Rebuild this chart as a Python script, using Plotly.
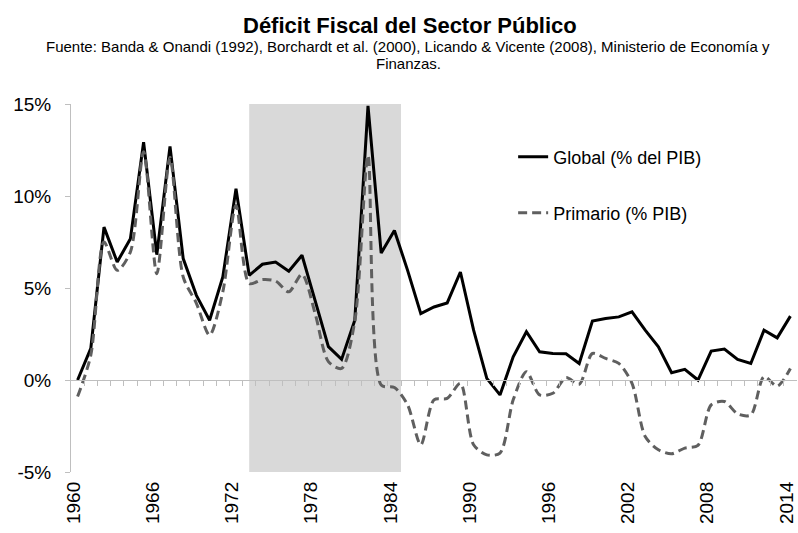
import plotly.graph_objects as go

years = list(range(1960, 2015))
global_pib = [0.0, 1.72, 8.31, 6.41, 7.68, 12.92, 6.81, 12.70, 6.60, 4.6,
              3.25, 5.6, 10.39, 5.69, 6.29, 6.41, 5.91, 6.78, 4.3, 1.81,
              1.12, 3.25, 14.9, 6.9, 8.13, 5.96, 3.61, 3.97, 4.19, 5.87,
              2.71, 0.09, -0.81, 1.26, 2.62, 1.53, 1.44, 1.43, 0.9, 3.2,
              3.34, 3.43, 3.70, 2.71, 1.81, 0.4, 0.58, 0.0, 1.57, 1.68,
              1.12, 0.9, 2.71, 2.29, 3.47]
primario_pib = [-0.9, 1.35, 7.5, 5.96, 6.96, 12.4, 5.78, 12.1, 5.6, 4.17,
                2.44, 4.79, 9.49, 5.24, 5.46, 5.38, 4.79, 5.75, 3.6, 1.0,
                0.63, 3.2, 12.2, -0.27, -0.41, -1.35, -3.52, -1.08, -1.0, -0.18,
                -3.52, -4.07, -3.97, -1.08, 0.45, -0.81, -0.72, 0.13, -0.23, 1.44,
                1.17, 0.9, -0.18, -3.07, -3.79, -4.01, -3.7, -3.55, -1.35, -1.17,
                -1.84, -1.9, 0.18, -0.33, 0.63]
label_years = [1960, 1966, 1972, 1978, 1984, 1990, 1996, 2002, 2008, 2014]
y_ticks = [-5, 0, 5, 10, 15]
shade_period = (1973, 1984.5)

title_text = "Déficit Fiscal del Sector Público"
subtitle_1 = ("Fuente: Banda & Onandi (1992), Borchardt et al. (2000), "
              "Licando & Vicente (2008), Ministerio de Economía y")
subtitle_2 = "Finanzas."

FONT = "Liberation Sans, Arial, sans-serif"
AXIS_GRAY = "#bfbfbf"
x_range = [years[0] - 0.5, years[-1] + 0.5]

# plot area: top 104 px, bottom 472 px
def paper_y(px):
    return (472 - px) / 368.0

fig = go.Figure()
fig.add_vrect(x0=shade_period[0], x1=shade_period[1], fillcolor="#d9d9d9",
              line_width=0, layer="below")

fig.add_trace(go.Scatter(x=years, y=global_pib, mode="lines", name="Global (% del PIB)",
                         line=dict(color="black", width=3), legend="legend"))
fig.add_trace(go.Scatter(x=years, y=primario_pib, mode="lines", name="Primario (% PIB)",
                         line=dict(color="#5f5f5f", width=3, dash="9px,5px",
                                   shape="spline", smoothing=0.8),
                         xaxis="x2", legend="legend2"))

fig.add_annotation(text=f"<b>{title_text}</b>", xref="paper", yref="paper",
                   x=(410 - 71) / 726, y=paper_y(25), xanchor="center", yanchor="middle",
                   showarrow=False, font=dict(size=22, family=FONT, color="black"))
fig.add_annotation(text=subtitle_1, xref="paper", yref="paper",
                   x=(408 - 71) / 726, y=paper_y(47), xanchor="center", yanchor="middle",
                   showarrow=False, font=dict(size=15, family=FONT, color="black"))
fig.add_annotation(text=subtitle_2, xref="paper", yref="paper",
                   x=(408 - 71) / 726, y=paper_y(64), xanchor="center", yanchor="middle",
                   showarrow=False, font=dict(size=15, family=FONT, color="black"))

fig.update_layout(
    width=798, height=533,
    margin=dict(l=71, r=1, t=104, b=61, autoexpand=False),
    paper_bgcolor="white", plot_bgcolor="white",
    font=dict(family=FONT, color="black"),
    showlegend=True,
    xaxis=dict(range=x_range, tickmode="array", tickvals=label_years,
               ticktext=[str(y) for y in label_years], tickangle=-90,
               showline=False, showgrid=False, zeroline=False, ticks="",
               ticklabeloverflow="allow", ticklabelstandoff=5, ticklabelshift=-4,
               automargin=False,
               tickfont=dict(size=19, family=FONT, color="black")),
    xaxis2=dict(range=x_range, overlaying="x", anchor="free", position=0.25,
                matches="x", showline=True, linecolor=AXIS_GRAY, linewidth=1,
                ticks="outside", ticklen=5, tickcolor=AXIS_GRAY, automargin=False,
                tickmode="array", tickvals=[y + 0.5 for y in years[:-1]],
                showticklabels=False, showgrid=False, zeroline=False),
    yaxis=dict(range=[-5, 15], tickmode="array", tickvals=y_ticks,
               ticktext=[f"{v}%" for v in y_ticks], showline=True,
               linecolor=AXIS_GRAY, linewidth=1, ticks="outside", ticklen=5,
               tickcolor=AXIS_GRAY, showgrid=False, zeroline=False,
               ticklabelstandoff=10, automargin=False,
               tickfont=dict(size=19, family=FONT, color="black")),
    legend=dict(x=0.609, y=paper_y(157), xanchor="left", yanchor="middle",
                bgcolor="rgba(0,0,0,0)", font=dict(size=18, family=FONT)),
    legend2=dict(x=0.609, y=paper_y(213), xanchor="left", yanchor="middle",
                 bgcolor="rgba(0,0,0,0)", font=dict(size=18, family=FONT)),
)

fig.write_html("out.html")
